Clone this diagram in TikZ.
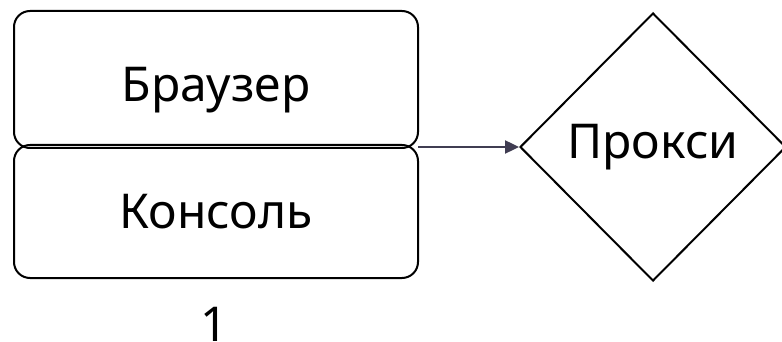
\documentclass[tikz,border=0pt]{standalone}
\usepackage{fontspec}
\setmainfont{Noto Sans}
\usetikzlibrary{positioning,shapes.geometric,arrows.meta}
\definecolor{arrowgrey}{HTML}{403D52}
\begin{document}
\begin{tikzpicture}[x=1pt, y=-1pt, line width=2pt,
  font=\fontsize{48}{57}\selectfont]

\useasboundingbox (0,0) rectangle (782,342);

% Sizes
\def\boxw{404}
\def\boxr{16}

% Client side
\node[draw, rounded corners=\boxr pt, minimum width=\boxw pt, minimum height=137pt,
      text height=45pt, text depth=0pt]
      (browser) at (216,79.5) {Браузер};
\node[draw, rounded corners=\boxr pt, minimum width=\boxw pt, minimum height=133pt]
      (console) at (216,211.5) {Консоль};

% Proxy
\node[draw, diamond, inner sep=0pt, minimum width=266pt, minimum height=268pt]
      (proxy) at (653,147) {Прокси};

\coordinate (join) at (418,147);
\draw[arrowgrey, line width=2.4pt, -{Triangle[length=14pt, width=13pt]}] (join) -- (proxy.west);

% Index
\node (index) at (214,324) {1};

\end{tikzpicture}
\end{document}
